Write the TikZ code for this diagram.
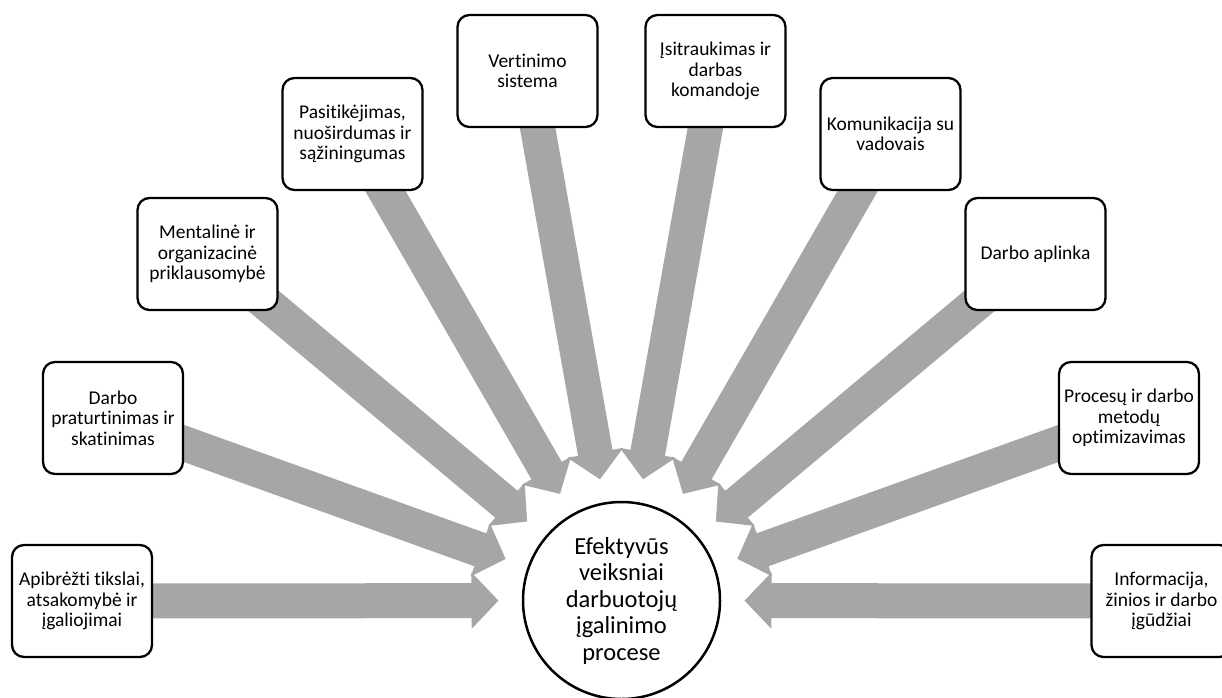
\documentclass[tikz,border=0pt]{standalone}
\usepackage{fontspec}
\setmainfont{Carlito}[Ligatures={NoCommon,NoRequired,NoContextual}]
\usetikzlibrary{arrows.meta,backgrounds}
\definecolor{arrowgray}{RGB}{166,166,166}
\tikzset{
  factorbox/.style={draw=black, line width=2.3pt, fill=white, rounded corners=12pt,
    minimum width=140pt, minimum height=112pt, inner sep=2pt, align=center,
    font=\fontsize{19.5}{20.5}\selectfont},
  centercircle/.style={draw=black, line width=2.5pt, fill=white, circle,
    minimum size=197pt, inner sep=0pt, align=center,
    font=\fontsize{24.5}{26.5}\selectfont},
  blockarrow/.style={draw=arrowgray, line width=35pt,
    -{Triangle[length=27pt,width=55pt,fill=arrowgray]}, shorten >=123pt}
}
\begin{document}
\begin{tikzpicture}[x=1pt,y=-1pt]
\useasboundingbox (0,0) rectangle (1222,697);
\node[centercircle] (c) at (621.5,600.5) {Efektyvūs\\veiksniai\\darbuotojų\\įgalinimo\\procese};
\node[factorbox] (b1) at (82,601) {Apibrėžti tikslai,\\atsakomybė ir\\įgaliojimai};
\node[factorbox] (b2) at (113,418) {Darbo\\praturtinimas ir\\skatinimas};
\node[factorbox] (b3) at (207.5,254) {Mentalinė ir\\organizacinė\\priklausomybė};
\node[factorbox] (b4) at (352.5,134) {Pasitikėjimas,\\nuoširdumas ir\\sąžiningumas};
\node[factorbox] (b5) at (527.5,71) {Vertinimo\\sistema};
\node[factorbox] (b6) at (715.5,71) {Įsitraukimas ir\\darbas\\komandoje};
\node[factorbox] (b7) at (890.5,134) {Komunikacija su\\vadovais};
\node[factorbox] (b8) at (1035.5,254) {Darbo aplinka};
\node[factorbox] (b9) at (1129,418) {Procesų ir darbo\\metodų\\optimizavimas};
\node[factorbox] (b10) at (1161.5,601) {Informacija,\\žinios ir darbo\\įgūdžiai};
\begin{scope}[on background layer]
\foreach \b in {b1,b2,b3,b4,b5,b6,b7,b8,b9,b10}
  \draw[blockarrow] (\b.center) -- (c.center);
\end{scope}
\end{tikzpicture}
\end{document}
